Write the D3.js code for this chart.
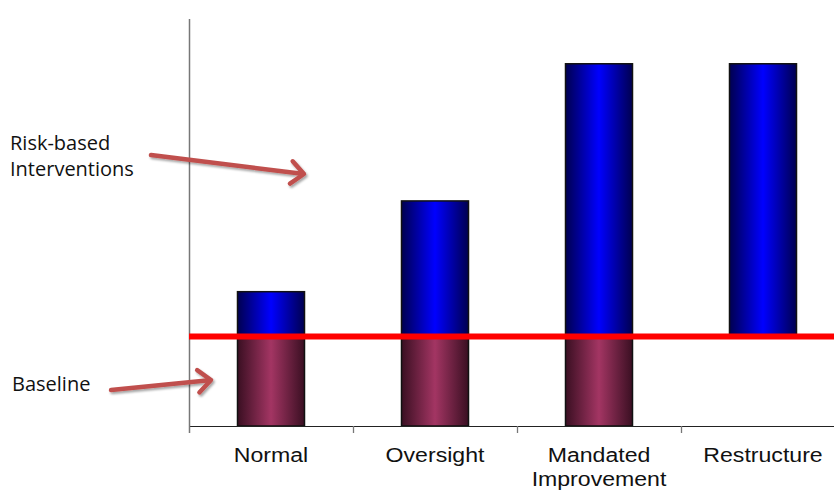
<!DOCTYPE html>
<html>
<head>
<meta charset="utf-8">
<script src="https://cdn.jsdelivr.net/npm/d3@7"></script>
<style>
  html, body { margin: 0; padding: 0; background: #fff; }
  svg { display: block; }
</style>
</head>
<body>
<svg id="chart" width="834" height="491"></svg>
<script>
// Intervention levels and stacked segment heights (arbitrary units)
const categories = ["Normal", "Oversight", "Mandated Improvement", "Restructure"];
const categoryLines = [["Normal"], ["Oversight"], ["Mandated", "Improvement"], ["Restructure"]];
const baselineValues = [22, 22, 22, 0];
const riskValues = [11, 33.3, 67, 67];
const baselineLevel = 22;

const svg = d3.select("#chart");
const W = 834, H = 491;
const plotLeft = 189, axisY = 426, plotTop = 19;

const x = d3.scaleBand().domain(categories).range([plotLeft, plotLeft + 164 * 4]).padding(0);
const barW = 67;
const y = d3.scaleLinear().domain([0, 100]).range([axisY, plotTop]);

const defs = svg.append("defs");
function hGrad(id, edge, mid) {
  const g = defs.append("linearGradient").attr("id", id)
    .attr("x1", "0%").attr("x2", "100%").attr("y1", "0%").attr("y2", "0%");
  g.append("stop").attr("offset", "0%").attr("stop-color", edge);
  g.append("stop").attr("offset", "50%").attr("stop-color", mid);
  g.append("stop").attr("offset", "100%").attr("stop-color", edge);
}
hGrad("gBlue", "#000050", "#0000ff");
hGrad("gMaroon", "#3a0f22", "#a33563");

const shadow = defs.append("filter").attr("id", "shadow")
  .attr("x", "-20%").attr("y", "-50%").attr("width", "140%").attr("height", "200%");
shadow.append("feDropShadow").attr("dx", 1.5).attr("dy", 2).attr("stdDeviation", 1.2)
  .attr("flood-color", "#000").attr("flood-opacity", 0.35);

// Bars: baseline segment from zero, risk-based segment stacked above the baseline level
const rows = categories.map((c, i) => ({ c, base: baselineValues[i], risk: riskValues[i] }));
const bx = d => x(d.c) + (x.bandwidth() - barW) / 2;

svg.append("g").selectAll("rect").data(rows.filter(d => d.base > 0)).join("rect")
  .attr("x", bx).attr("width", barW)
  .attr("y", d => y(d.base)).attr("height", d => y(0) - y(d.base))
  .attr("fill", "url(#gMaroon)").attr("stroke", "#111").attr("stroke-width", 1.5);

svg.append("g").selectAll("rect").data(rows).join("rect")
  .attr("x", bx).attr("width", barW)
  .attr("y", d => y(baselineLevel + d.risk))
  .attr("height", d => y(baselineLevel) - y(baselineLevel + d.risk))
  .attr("fill", "url(#gBlue)").attr("stroke", "#111").attr("stroke-width", 1.5);

// X axis line and category boundary ticks
svg.append("line").attr("x1", plotLeft).attr("x2", W).attr("y1", axisY + 0.5).attr("y2", axisY + 0.5)
  .attr("stroke", "#222").attr("stroke-width", 1);
svg.append("g").selectAll("line").data(categories.slice(1)).join("line")
  .attr("x1", d => Math.round(x(d)) + 0.5).attr("x2", d => Math.round(x(d)) + 0.5)
  .attr("y1", axisY).attr("y2", axisY + 7)
  .attr("stroke", "#777").attr("stroke-width", 1.3);

// Y axis line
svg.append("line").attr("x1", plotLeft + 0.5).attr("x2", plotLeft + 0.5).attr("y1", plotTop).attr("y2", axisY + 7)
  .attr("stroke", "#777").attr("stroke-width", 1.5);

// Category labels (slightly widened type)
const lab = svg.append("g").attr("font-family", "'Liberation Sans', Arial, sans-serif")
  .attr("font-size", 21).attr("fill", "#111").attr("text-anchor", "middle");
categories.forEach((c, i) => {
  const cx = x(c) + x.bandwidth() / 2;
  const t = lab.append("text").attr("transform", `translate(${cx},462) scale(1.1,1)`);
  categoryLines[i].forEach((ln, j) => {
    t.append("tspan").attr("x", 0).attr("y", j * 24.5).text(ln);
  });
});

// Baseline threshold line
svg.append("line").attr("x1", plotLeft).attr("x2", W)
  .attr("y1", y(baselineLevel)).attr("y2", y(baselineLevel))
  .attr("stroke", "#ff0000").attr("stroke-width", 6);

// Annotations
const ann = svg.append("g").attr("font-family", "'Open Sans', 'Noto Sans', sans-serif")
  .attr("font-size", 20).attr("fill", "#111");
ann.append("text").attr("x", 10).attr("y", 150).text("Risk-based");
ann.append("text").attr("x", 10).attr("y", 176).text("Interventions");
ann.append("text").attr("x", 12).attr("y", 391).text("Baseline");

function arrow(x1, y1, x2, y2) {
  const a = Math.atan2(y2 - y1, x2 - x1);
  const L = 17, spread = 0.72;
  const p1 = [x2 - L * Math.cos(a - spread), y2 - L * Math.sin(a - spread)];
  const p2 = [x2 - L * Math.cos(a + spread), y2 - L * Math.sin(a + spread)];
  const g = svg.append("g").attr("filter", "url(#shadow)")
    .attr("stroke", "#c0504d").attr("stroke-width", 4.5).attr("fill", "none")
    .attr("stroke-linecap", "round").attr("stroke-linejoin", "round");
  g.append("line").attr("x1", x1).attr("y1", y1).attr("x2", x2 - 2 * Math.cos(a)).attr("y2", y2 - 2 * Math.sin(a));
  g.append("path").attr("d", `M${p1[0]},${p1[1]}L${x2},${y2}L${p2[0]},${p2[1]}`);
}
arrow(151, 155, 304, 174);
arrow(111, 390, 211, 380);
</script>
</body>
</html>
